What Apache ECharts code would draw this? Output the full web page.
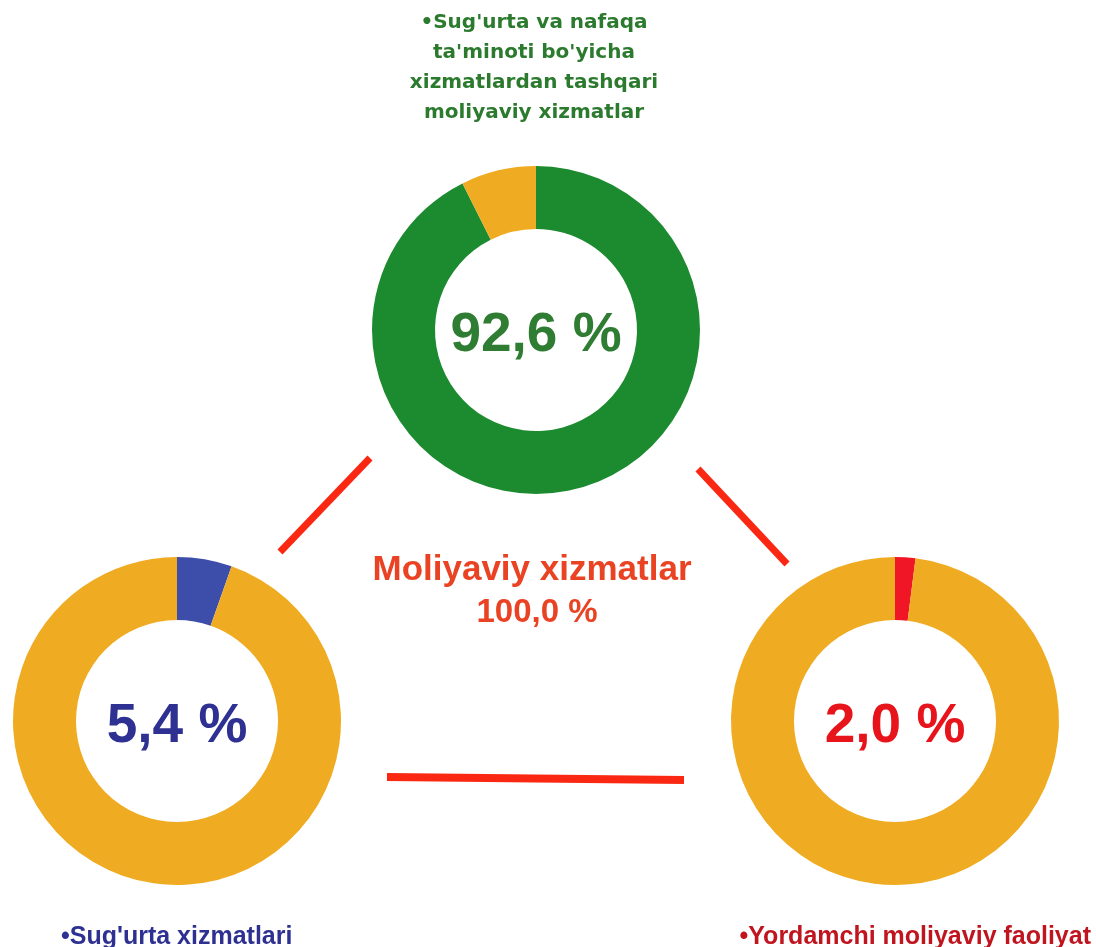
<!DOCTYPE html>
<html>
<head>
<meta charset="utf-8">
<title>Moliyaviy xizmatlar</title>
<script src="https://cdn.jsdelivr.net/npm/echarts@6/dist/echarts.min.js"></script>
<style>
  html, body { margin: 0; padding: 0; background: #ffffff; }
  #chart { width: 1096px; height: 947px; }
</style>
</head>
<body>
<div id="chart"></div>
<script>
// ring shares (share of segment, rest)
var topRing = [92.6, 7.4];
var leftRing = [5.4, 94.6];
var rightRing = [2.0, 98.0];

var ringLabels = ['92,6 %', '5,4 %', '2,0 %'];
var segmentNames = [
  "\u2022Sug'urta va nafaqa\nta'minoti bo'yicha\nxizmatlardan tashqari\nmoliyaviy xizmatlar",
  "\u2022Sug'urta xizmatlari",
  "\u2022Yordamchi moliyaviy faoliyat"
];
var totalName = 'Moliyaviy xizmatlar';
var totalLabel = '100,0 %';

var ORANGE = '#EFAC22';
var LINE_RED = '#FA2812';

var chart = echarts.init(document.getElementById('chart'), null, { renderer: 'canvas' });

// one donut
function ring(center, values, mainColor, label, labelColor) {
  return {
    type: 'pie',
    center: center,
    radius: [101, 164],
    startAngle: 90,
    clockwise: true,
    silent: true,
    avoidLabelOverlap: false,
    labelLine: { show: false },
    itemStyle: { borderWidth: 0 },
    emphasis: { disabled: true },
    data: [
      {
        value: values[0],
        itemStyle: { color: mainColor },
        label: {
          show: true,
          position: 'center',
          formatter: label,
          color: labelColor,
          fontFamily: '"Liberation Sans", Arial, sans-serif',
          fontWeight: 'bold',
          fontSize: 55,
          offset: [0, 6]
        }
      },
      { value: values[1], itemStyle: { color: ORANGE }, label: { show: false } }
    ]
  };
}

var option = {
  animation: false,
  backgroundColor: '#ffffff',
  series: [
    ring([536, 330], topRing, '#1C8A2E', ringLabels[0], '#2E7D32'),
    ring([177, 721], leftRing, '#3C4DAA', ringLabels[1], '#2E3192'),
    ring([895, 721], rightRing, '#F01626', ringLabels[2], '#E8141C')
  ],
  graphic: [
    // connector lines
    { type: 'line', shape: { x1: 370, y1: 458, x2: 280, y2: 552 }, style: { stroke: LINE_RED, lineWidth: 7 } },
    { type: 'line', shape: { x1: 698, y1: 469, x2: 787, y2: 564 }, style: { stroke: LINE_RED, lineWidth: 7 } },
    { type: 'line', shape: { x1: 387, y1: 777, x2: 684, y2: 780 }, style: { stroke: LINE_RED, lineWidth: 8 } },
    // segment names
    {
      type: 'text', x: 534, y: 8,
      style: {
        text: segmentNames[0], textAlign: 'center', textVerticalAlign: 'top',
        fill: '#2B7A2E', font: 'bold 20px "DejaVu Sans", Verdana, sans-serif', lineHeight: 30
      }
    },
    {
      type: 'text', x: 61, y: 937,
      style: {
        text: segmentNames[1], textAlign: 'left', textVerticalAlign: 'middle',
        fill: '#2E3192', font: 'bold 25px "Liberation Sans", Arial, sans-serif'
      }
    },
    {
      type: 'text', x: 1091, y: 937,
      style: {
        text: segmentNames[2], textAlign: 'right', textVerticalAlign: 'middle',
        fill: '#C0141E', font: 'bold 25px "Liberation Sans", Arial, sans-serif'
      }
    },
    // total in the middle
    {
      type: 'text', x: 532, y: 570,
      style: {
        text: totalName, textAlign: 'center', textVerticalAlign: 'middle',
        fill: '#EA4324', font: 'bold 35px "Liberation Sans", Arial, sans-serif'
      }
    },
    {
      type: 'text', x: 537, y: 613,
      style: {
        text: totalLabel, textAlign: 'center', textVerticalAlign: 'middle',
        fill: '#EA4324', font: 'bold 33px "Liberation Sans", Arial, sans-serif'
      }
    }
  ]
};

chart.setOption(option);
</script>
</body>
</html>
